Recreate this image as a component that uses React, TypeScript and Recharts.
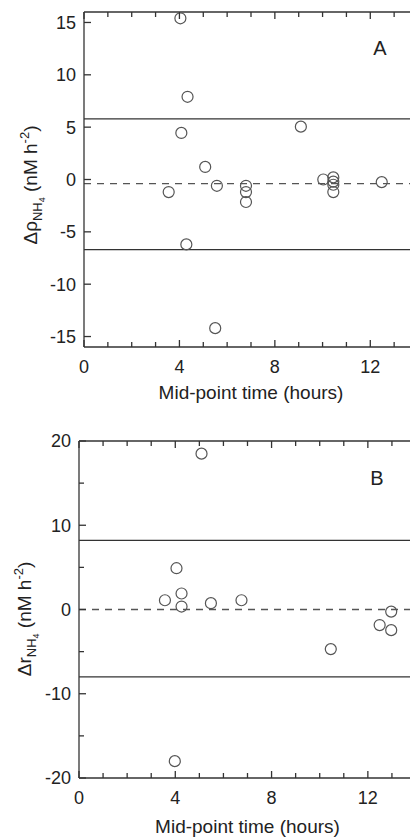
import React from 'react';
import { ScatterChart, Scatter, XAxis, YAxis, ReferenceLine } from 'recharts';

// the page is photographed at its own size, drop the default body margin
document.body.style.margin = '0';

const FONT = '"Liberation Sans", Arial, Helvetica, sans-serif';
const INK = '#333';

// panel A: delta rho NH4 against mid-point time
const timeA = [4.04, 4.34, 4.08, 9.09, 5.08, 3.55, 5.57, 6.79, 6.79, 6.79, 10.03, 10.45, 10.45, 10.45, 10.45, 12.48, 4.29, 5.5];
const deltaA = [15.4, 7.9, 4.45, 5.05, 1.2, -1.2, -0.6, -0.6, -1.2, -2.15, 0.0, 0.2, -0.2, -0.5, -1.2, -0.25, -6.2, -14.2];
const limitsA = [5.8, -6.7];
const biasA = -0.4;

// panel B: delta r NH4 against mid-point time
const timeB = [5.09, 4.05, 3.57, 4.26, 4.26, 5.48, 6.75, 12.97, 12.49, 12.97, 10.46, 3.98];
const deltaB = [18.5, 4.9, 1.1, 1.9, 0.35, 0.75, 1.1, -0.25, -1.85, -2.45, -4.7, -18.0];
const limitsB = [8.2, -8.0];
const biasB = 0;

const hourTicks = [0, 1, 2, 3, 4, 5, 6, 7, 8, 9, 10, 11, 12, 13, 14];
const yTicksA = [-15, -10, -5, 0, 5, 10, 15];
const yTicksB = [-20, -15, -10, -5, 0, 5, 10, 15, 20];
const domainA = [-16, 16];
const domainB = [-20, 20];

const pointsA = timeA.map((t, i) => ({ x: t, y: deltaA[i] }));
const pointsB = timeB.map((t, i) => ({ x: t, y: deltaB[i] }));

const Ring = (props: any) => (
  <circle cx={props.cx} cy={props.cy} r={5.5} fill="none" stroke="#555" strokeWidth={1.2} />
);

// ticks point into the plot on both the bottom and the top frame, labels sit outside
const bottomTick = (plotH: number) => (props: any) => {
  const { x, y, payload } = props;
  const major = payload.value % 4 === 0;
  const len = major ? 7 : 5;
  const top = y - plotH;
  return (
    <g>
      <path d={`M${x},${y}V${y - len}M${x},${top}V${top + len}`} stroke={INK} strokeWidth={1.3} fill="none" />
      {major && (
        <text x={x} y={y + 26} textAnchor="middle" fontSize={18} fill="#222" fontFamily={FONT}>
          {payload.value}
        </text>
      )}
    </g>
  );
};

const leftTick = (every: number) => (props: any) => {
  const { x, y, payload } = props;
  const labelled = payload.value % every === 0;
  return (
    <g>
      <path d={`M${x},${y}H${x + (labelled ? 7 : 5)}`} stroke={INK} strokeWidth={1.3} fill="none" />
      {labelled && (
        <text x={x - 8} y={y} dy="0.36em" textAnchor="end" fontSize={18} fill="#222" fontFamily={FONT}>
          {payload.value}
        </text>
      )}
    </g>
  );
};

const YTitle = (bx: number, by: number, sym: string, panel: string, px: number, py: number) => () => (
  <g fill="#222" fontFamily={FONT}>
    <text x={bx} y={by} transform={`rotate(-90 ${bx} ${by})`} textAnchor="middle" fontSize={19}>
      <tspan>{'\u0394' + sym}</tspan>
      <tspan dy={5} fontSize={13}>NH</tspan>
      <tspan dy={3} fontSize={9}>4</tspan>
      <tspan dy={-8}>{' (nM h'}</tspan>
      <tspan dy={-8} fontSize={13}>-2</tspan>
      <tspan dy={8}>)</tspan>
    </text>
    <text x={px} y={py} textAnchor="middle" fontSize={20}>{panel}</text>
  </g>
);

const XTitle = (gap: number) => ({ viewBox }: any) => (
  <text x={viewBox.x + viewBox.width / 2} y={viewBox.y + gap} textAnchor="middle" fontSize={19} fill="#222" fontFamily={FONT}>
    Mid-point time (hours)
  </text>
);

const App = () => (
  <div style={{ width: 410, height: 837, overflow: 'hidden', background: '#fff' }}>
    <ScatterChart width={440} height={408} margin={{ top: 12, right: 22, bottom: 0, left: 0 }}>
      <XAxis dataKey="x" type="number" domain={[0, 14]} ticks={hourTicks} interval={0} height={61}
        tickSize={0} tickMargin={0} tick={bottomTick(335)} axisLine={{ stroke: INK, strokeWidth: 1.3 }}
        label={XTitle(52)} />
      <YAxis dataKey="y" type="number" domain={domainA} ticks={yTicksA} interval={0} width={84}
        tickSize={0} tickMargin={0} tick={leftTick(5)} axisLine={{ stroke: INK, strokeWidth: 1.3 }}
        label={YTitle(37, 185, '\u03c1', 'A', 380, 55)} />
      <ReferenceLine y={domainA[1]} ifOverflow="visible" stroke={INK} strokeWidth={1.3} />
      <ReferenceLine y={limitsA[0]} stroke={INK} strokeWidth={1.3} />
      <ReferenceLine y={limitsA[1]} stroke={INK} strokeWidth={1.3} />
      <ReferenceLine y={biasA} stroke="#555" strokeWidth={1.3} strokeDasharray="7 6" />
      <Scatter data={pointsA} dataKey="y" shape={Ring} isAnimationActive={false} />
    </ScatterChart>
    <ScatterChart width={440} height={429} margin={{ top: 33, right: 24, bottom: 0, left: 0 }}>
      <XAxis dataKey="x" type="number" domain={[0, 14]} ticks={hourTicks} interval={0} height={59}
        tickSize={0} tickMargin={0} tick={bottomTick(337)} axisLine={{ stroke: INK, strokeWidth: 1.3 }}
        label={XTitle(55)} />
      <YAxis dataKey="y" type="number" domain={domainB} ticks={yTicksB} interval={0} width={79}
        tickSize={0} tickMargin={0} tick={leftTick(10)} axisLine={{ stroke: INK, strokeWidth: 1.3 }}
        label={YTitle(31, 211, 'r', 'B', 377, 77)} />
      <ReferenceLine y={domainB[1]} ifOverflow="visible" stroke={INK} strokeWidth={1.3} />
      <ReferenceLine y={limitsB[0]} stroke={INK} strokeWidth={1.3} />
      <ReferenceLine y={limitsB[1]} stroke={INK} strokeWidth={1.3} />
      <ReferenceLine y={biasB} stroke="#555" strokeWidth={1.3} strokeDasharray="7 6" />
      <Scatter data={pointsB} dataKey="y" shape={Ring} isAnimationActive={false} />
    </ScatterChart>
  </div>
);

export default App;
